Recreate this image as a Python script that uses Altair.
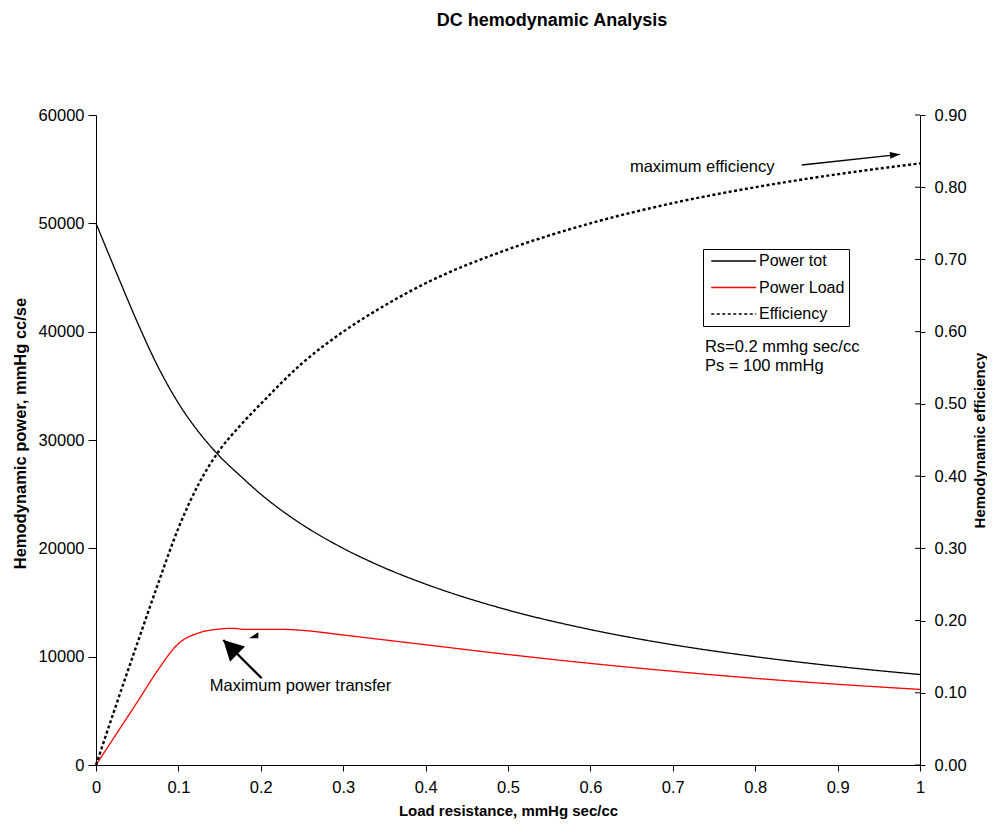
import altair as alt
import pandas as pd

FONT = "Liberation Sans"

# ---------------- data ----------------
title_text = "DC hemodynamic Analysis"
x_title = "Load resistance, mmHg sec/cc"
y_left_title = "Hemodynamic power, mmHg cc/se"
y_right_title = "Hemodynamic efficiency"

series_names = ["Power tot", "Power Load", "Efficiency"]

tot_r = [0, 0.025, 0.05, 0.075, 0.1, 0.125, 0.15, 0.175, 0.2, 0.25, 0.3, 0.35, 0.4, 0.5, 0.6, 0.7, 0.8, 0.9, 1.0]
tot_p = [50000, 45400, 40900, 36800, 33400, 30700, 28500, 26700, 25000, 22200, 20000, 18200, 16700, 14300, 12500, 11100, 10000, 9100, 8350]

load_r = [0, 0.025, 0.05, 0.075, 0.1, 0.125, 0.15, 0.165, 0.18, 0.2, 0.225, 0.25, 0.3, 0.35, 0.4, 0.5, 0.6, 0.7, 0.8, 0.9, 1.0]
load_p = [0, 2900, 5800, 8750, 11200, 12200, 12550, 12620, 12520, 12520, 12520, 12430, 12000, 11550, 11100, 10200, 9380, 8650, 8000, 7450, 6980]

eff_r = [0, 0.025, 0.05, 0.075, 0.1, 0.125, 0.15, 0.175, 0.2, 0.25, 0.3, 0.35, 0.4, 0.5, 0.6, 0.7, 0.8, 0.9, 1.0]
eff_v = [0, 0.085, 0.168, 0.250, 0.328, 0.390, 0.436, 0.470, 0.5, 0.556, 0.6, 0.636, 0.667, 0.714, 0.75, 0.778, 0.8, 0.818, 0.833]

x_ticks = [0, 0.1, 0.2, 0.3, 0.4, 0.5, 0.6, 0.7, 0.8, 0.9, 1.0]
yl_ticks = [0, 10000, 20000, 30000, 40000, 50000, 60000]
yr_ticks = [0, 0.1, 0.2, 0.3, 0.4, 0.5, 0.6, 0.7, 0.8, 0.9]

# annotations (data coordinates on the left axis scale)
note_texts = ["maximum efficiency", "Maximum power transfer", "Rs=0.2 mmhg sec/cc", "Ps = 100 mmHg"]
note_x = [0.648, 0.138, 0.739, 0.739]
note_y = [55200, 7290, 38590, 36830]

arrow_x = [0.8564, 0.2011]
arrow_y = [55385, 8003]
arrow_x2 = [0.9757, 0.1545]
arrow_y2 = [56372, 11538]
arrow_w = [1.3, 2.2]

small_tri_x = [0.197]
small_tri_y = [11695]

# ---------------- tables ----------------
df_power = pd.DataFrame({
    "r": tot_r + load_r,
    "value": tot_p + load_p,
    "series": ["Power tot"] * len(tot_r) + ["Power Load"] * len(load_r),
})
df_eff = pd.DataFrame({"r": eff_r, "value": eff_v, "series": ["Efficiency"] * len(eff_r)})
df_notes = pd.DataFrame({"x": note_x, "y": note_y, "text": note_texts})
df_arrows = pd.DataFrame({"x": arrow_x, "y": arrow_y, "x2": arrow_x2, "y2": arrow_y2, "w": arrow_w})
df_head_small = pd.DataFrame({"x": arrow_x2[:1], "y": arrow_y2[:1]})
df_head_big = pd.DataFrame({"x": arrow_x2[1:], "y": arrow_y2[1:]})
df_tri = pd.DataFrame({"x": small_tri_x, "y": small_tri_y})
df_rticks = pd.DataFrame({"t": yr_ticks})

# ---------------- scales / axes ----------------
x_scale = alt.Scale(domain=[0, 1], nice=False, zero=False)
yl_scale = alt.Scale(domain=[0, 60000], nice=False)
yr_scale = alt.Scale(domain=[0, 0.9], nice=False)

color_scale = alt.Scale(domain=series_names, range=["#000000", "#ff0000", "#000000"])
dash_scale = alt.Scale(domain=series_names, range=[[1, 0], [1, 0], [3, 2.5]])

legend = alt.Legend(
    title=None, orient="none", legendX=607, legendY=134,
    symbolType="M-1,0H11", symbolSize=56, symbolStrokeWidth=1.6,
    labelOffset=36, labelFontSize=16, labelFont=FONT, labelColor="black",
    rowPadding=10.5, padding=4, strokeColor="black", fillColor="white",
    labelLimit=300,
)

x_axis = alt.Axis(
    values=x_ticks, format="~g", title=x_title, grid=False, tickSize=6,
    labelPadding=8, labelFontSize=16.5, titleFontSize=15, titleFontWeight="bold",
    labelFlush=False, titlePadding=8,
    domainColor="black", tickColor="black", labelColor="black", titleColor="black",
    labelFont=FONT, titleFont=FONT,
)
yl_axis = alt.Axis(
    values=yl_ticks, format="d", title=y_left_title, grid=False, tickSize=8,
    labelPadding=4, labelFontSize=16.5, titleFontSize=16.5, titleFontWeight="bold",
    titlePadding=10, titleY=318,
    domainColor="black", tickColor="black", labelColor="black", titleColor="black",
    labelFont=FONT, titleFont=FONT,
)
yr_axis = alt.Axis(
    orient="right", values=yr_ticks, format=".2f", title=y_right_title, grid=False,
    tickSize=5, labelPadding=9, labelFontSize=16.5, titleFontSize=15, titleFontWeight="bold",
    titlePadding=6, titleAngle=270, titleBaseline="top",
    domainColor="black", tickColor="black", labelColor="black", titleColor="black",
    labelFont=FONT, titleFont=FONT,
)

# ---------------- layers ----------------
power = alt.Chart(df_power).mark_line(strokeWidth=1.3, interpolate="monotone").encode(
    x=alt.X("r:Q", scale=x_scale, axis=x_axis),
    y=alt.Y("value:Q", scale=yl_scale, axis=yl_axis),
    color=alt.Color("series:N", scale=color_scale, legend=legend),
    strokeDash=alt.StrokeDash("series:N", scale=dash_scale, legend=legend),
)

eff = alt.Chart(df_eff).mark_line(strokeWidth=2.4, interpolate="monotone").encode(
    x=alt.X("r:Q", scale=x_scale),
    y=alt.Y("value:Q", scale=yr_scale, axis=yr_axis),
    color=alt.Color("series:N", scale=color_scale, legend=legend),
    strokeDash=alt.StrokeDash("series:N", scale=dash_scale, legend=legend),
)

arrows = alt.Chart(df_arrows).mark_rule(color="black", strokeCap="butt").encode(
    x=alt.X("x:Q", scale=x_scale),
    y=alt.Y("y:Q", scale=yl_scale, axis=None),
    x2="x2:Q", y2="y2:Q",
    strokeWidth=alt.StrokeWidth("w:Q", scale=None),
)

head_small = alt.Chart(df_head_small).mark_point(
    shape="M0,0L-2,-0.7L-2,0.7Z", size=100, filled=True, color="black", opacity=1, angle=353.8
).encode(x=alt.X("x:Q", scale=x_scale), y=alt.Y("y:Q", scale=yl_scale, axis=None))

head_big = alt.Chart(df_head_big).mark_point(
    shape="M0,0L-2,-1.06L-2,1.06Z", size=400, filled=True, color="black", opacity=1, angle=224.9
).encode(x=alt.X("x:Q", scale=x_scale), y=alt.Y("y:Q", scale=yl_scale, axis=None))

tri = alt.Chart(df_tri).mark_point(
    shape="M0,0L-9.3,0L0,-6Z", size=4, filled=True, color="black", opacity=1
).encode(x=alt.X("x:Q", scale=x_scale), y=alt.Y("y:Q", scale=yl_scale, axis=None))

notes = alt.Chart(df_notes).mark_text(
    align="left", baseline="middle", font=FONT, fontSize=16.5, color="black"
).encode(
    x=alt.X("x:Q", scale=x_scale),
    y=alt.Y("y:Q", scale=yl_scale, axis=None),
    text="text:N",
)

inner_ticks = alt.Chart(df_rticks).mark_rule(color="black", strokeWidth=1).encode(
    y=alt.Y("t:Q", scale=yr_scale, axis=None),
    x=alt.value(819), x2=alt.value(824),
)

chart = alt.layer(
    power, eff, arrows, head_small, head_big, tri, notes, inner_ticks
).resolve_scale(y="independent").properties(
    width=824, height=650,
    padding={"left": 88, "top": 107, "right": 67, "bottom": 56},
    autosize=alt.AutoSizeParams(type="none"),
    background="white",
    title=alt.TitleParams(
        text=title_text, font=FONT, fontSize=18, fontWeight="bold", color="black",
        anchor="middle", dx=44, offset=59, baseline="bottom",
    ),
).configure_view(strokeWidth=0)

chart.save("out.html", embed_options={"renderer": "svg", "actions": False})
